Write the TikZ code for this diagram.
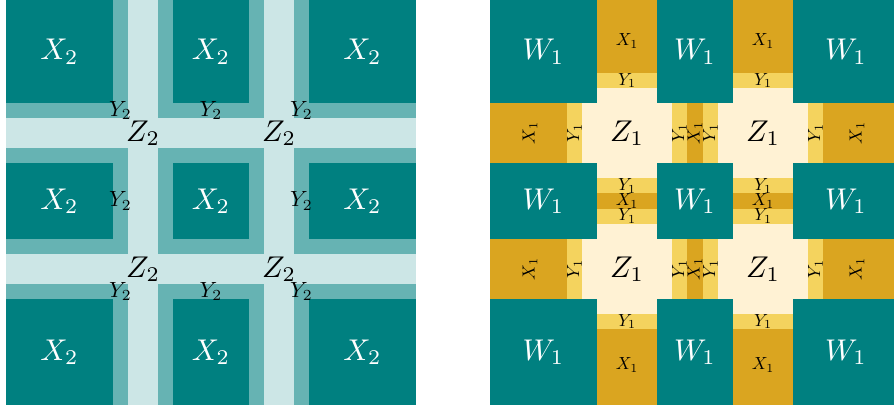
\documentclass[tikz,border=0pt]{standalone}
\definecolor{tealD}{RGB}{0,128,128}
\definecolor{tealM}{RGB}{102,179,179}
\definecolor{tealL}{RGB}{204,230,230}
\definecolor{goldD}{RGB}{218,165,32}
\definecolor{goldL}{RGB}{244,211,94}
\definecolor{creamZ}{RGB}{255,242,212}
\begin{document}
\begin{tikzpicture}[x=1pt,y=-1pt,
  biglbl/.style={inner sep=0pt,scale=3.0},
  midlbl/.style={inner sep=0pt,scale=2.2},
  smalllbl/.style={inner sep=0pt,scale=1.75}]
\useasboundingbox (0,0) rectangle (894,410);
\clip (0,0) rectangle (894,410);
% ---------- left panel ----------
\fill[tealM] (6,0) rectangle (416,405);
\fill[tealL] (128,0) rectangle (158,405);
\fill[tealL] (264,0) rectangle (294,405);
\fill[tealL] (6,118) rectangle (416,148);
\fill[tealL] (6,254) rectangle (416,284);
\foreach \xa/\xb in {6/113,173/249,309/416}
  \foreach \ya/\yb in {0/103,163/239,299/405}
    \fill[tealD] (\xa,\ya) rectangle (\xb,\yb);
% ---------- right panel ----------
\fill[goldD] (490,0) rectangle (900,405);
\foreach \xa/\xb in {490/597,657/733,793/900}
  \foreach \ya/\yb in {0/103,163/239,299/405}
    \fill[tealD] (\xa,\ya) rectangle (\xb,\yb);
\foreach \a/\b in {597/103,733/103,597/239,733/239}{
  \fill[goldL] (\a,\b-30) rectangle (\a+60,\b+90);
  \fill[goldL] (\a-30,\b) rectangle (\a+90,\b+60);
  \fill[creamZ] (\a,\b-15) rectangle (\a+60,\b+75);
  \fill[creamZ] (\a-15,\b) rectangle (\a+75,\b+60);
}
% ---------- left labels ----------
\foreach \x [count=\i] in {59.5,211,362.5}
  \foreach \y [count=\j] in {51.5,201,352}
    \node[biglbl,text=white] (xtwo\i\j) at (\x,\y) {$X_2$};
\foreach \x/\y [count=\i] in {120.5/110.5,211/110.5,301.5/110.5,120.5/201,301.5/201,120.5/291.5,211/291.5,301.5/291.5}
  \node[midlbl] (ytwo\i) at (\x,\y) {$Y_2$};
\foreach \x/\y [count=\i] in {143/133,279/133,143/269,279/269}
  \node[biglbl] (ztwo\i) at (\x,\y) {$Z_2$};
% ---------- right labels ----------
\foreach \x [count=\i] in {543.5,695,846}
  \foreach \y [count=\j] in {51.5,201,352}
    \node[biglbl,text=white] (wone\i\j) at (\x,\y) {$W_1$};
\foreach \x/\y [count=\i] in {627/133,763/133,627/269,763/269}
  \node[biglbl] (zone\i) at (\x,\y) {$Z_1$};
\foreach \x/\y [count=\i] in {627/41,763/41,627/365,763/365,627/201,763/201}
  \node[smalllbl] (xone\i) at (\x,\y) {$X_1$};
\foreach \x/\y [count=\i] in {627/80.5,763/80.5,627/321.5,763/321.5,627/186,627/216,763/186,763/216}
  \node[smalllbl] (yone\i) at (\x,\y) {$Y_1$};
\foreach \y [count=\j] in {133,269}{
  \foreach \x [count=\i] in {530,695,857}
    \node[smalllbl,rotate=90] (xr\i\j) at (\x,\y) {$X_1$};
  \foreach \x [count=\i] in {574.5,679.5,710.5,815.5}
    \node[smalllbl,rotate=90] (yr\i\j) at (\x,\y) {$Y_1$};
}
\end{tikzpicture}
\end{document}
